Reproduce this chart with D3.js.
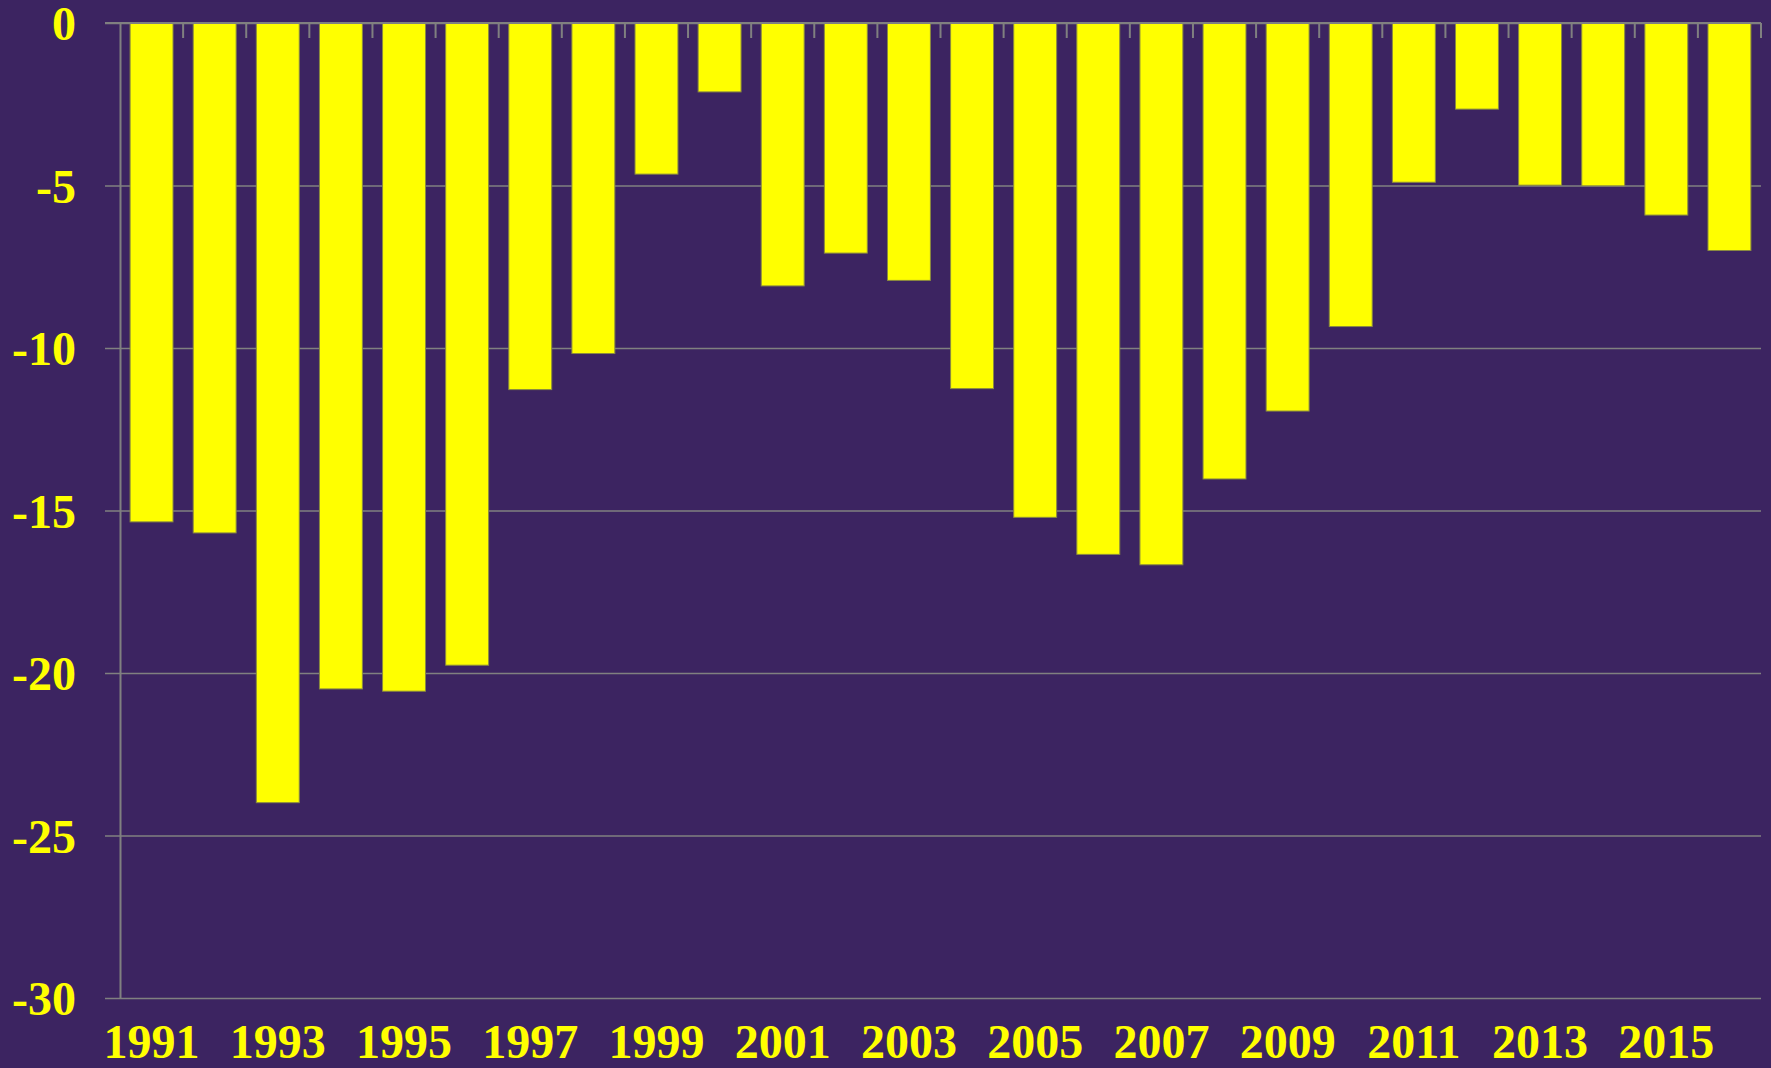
<!DOCTYPE html>
<html>
<head>
<meta charset="utf-8">
<script src="https://cdn.jsdelivr.net/npm/d3@7"></script>
<style>
  html, body { margin: 0; padding: 0; background: #3c2461; }
  svg { display: block; }
  .lbl { font-family: "Liberation Serif", "Times New Roman", serif; font-weight: bold; font-size: 48px; fill: #ffff00; }
</style>
</head>
<body>
<svg width="1771" height="1068"></svg>
<script>
var svg = d3.select('svg');

let w = 1771;
let h = 1068;

// years on the x axis and the values of the bars
const years = [1991, 1992, 1993, 1994, 1995, 1996, 1997, 1998, 1999, 2000,
               2001, 2002, 2003, 2004, 2005, 2006, 2007, 2008, 2009, 2010,
               2011, 2012, 2013, 2014, 2015, 2016];
const values = [-15.35, -15.69, -23.99, -20.49, -20.56, -19.76, -11.28, -10.17, -4.65, -2.12,
                -8.09, -7.08, -7.92, -11.25, -15.21, -16.35, -16.67, -14.03, -11.94, -9.34,
                -4.90, -2.65, -4.99, -5.01, -5.91, -7.00];
const yTicks = [0, -5, -10, -15, -20, -25, -30];
const xLabels = years.filter(d => d % 2 == 1); // only odd years get a label

const margin = {left: 120, right: 10, top: 23, bottom: 70};

let x = d3.scaleBand()
    .domain(years)
    .range([margin.left, w - margin.right])
    .paddingInner(0.32)
    .paddingOuter(0.16);

let y = d3.scaleLinear()
    .domain([-30, 0])
    .range([h - margin.bottom, margin.top]);

// horizontal gridlines + y labels (plain hyphen as minus, like the original)
let yAxis = d3.axisLeft(y)
    .tickValues(yTicks)
    .tickSize(-(w - margin.right - margin.left))
    .tickSizeOuter(0)
    .tickPadding(44)
    .tickFormat(d => String(d));

let gy = svg.append('g')
    .attr('transform', 'translate(' + margin.left + ',0)')
    .call(yAxis);
gy.select('.domain').attr('stroke', '#808080').attr('stroke-width', 2);
gy.selectAll('.tick line')
    .attr('x1', -15)
    .attr('stroke', '#808080')
    .attr('stroke-width', 1.5);
gy.selectAll('.tick text')
    .attr('class', 'lbl')
    .attr('font-size', null)
    .attr('font-family', null)
    .attr('fill', null)
    .attr('dy', '0.35em');

// bars
svg.append('g').selectAll('rect')
    .data(years)
    .enter().append('rect')
    .attr('x', d => x(d))
    .attr('width', x.bandwidth())
    .attr('y', y(0))
    .attr('height', (d, i) => y(values[i]) - y(0))
    .attr('fill', '#ffff00')
    .attr('stroke', '#8a8a40')
    .attr('stroke-width', 1);

// zero line with small ticks between categories
let step = x.step();
let bounds = years.map(d => x(d) - x.paddingInner() * step / 2).concat([w - margin.right]);
let zero = svg.append('g');
zero.append('line')
    .attr('x1', margin.left - 15).attr('x2', w - margin.right)
    .attr('y1', y(0)).attr('y2', y(0))
    .attr('stroke', '#808080').attr('stroke-width', 2);
zero.selectAll('.bt').data(bounds.slice(1)).enter().append('line')
    .attr('x1', d => d).attr('x2', d => d)
    .attr('y1', y(0)).attr('y2', y(0) + 15)
    .attr('stroke', '#808080').attr('stroke-width', 2);

// year labels under the plot
let xAxis = d3.axisBottom(x)
    .tickValues(xLabels)
    .tickSize(0)
    .tickPadding(26);
let gx = svg.append('g')
    .attr('transform', 'translate(0,' + y(-30) + ')')
    .call(xAxis);
gx.select('.domain').remove();
gx.selectAll('.tick text')
    .attr('class', 'lbl')
    .attr('font-size', null)
    .attr('font-family', null)
    .attr('fill', null);
</script>
</body>
</html>
